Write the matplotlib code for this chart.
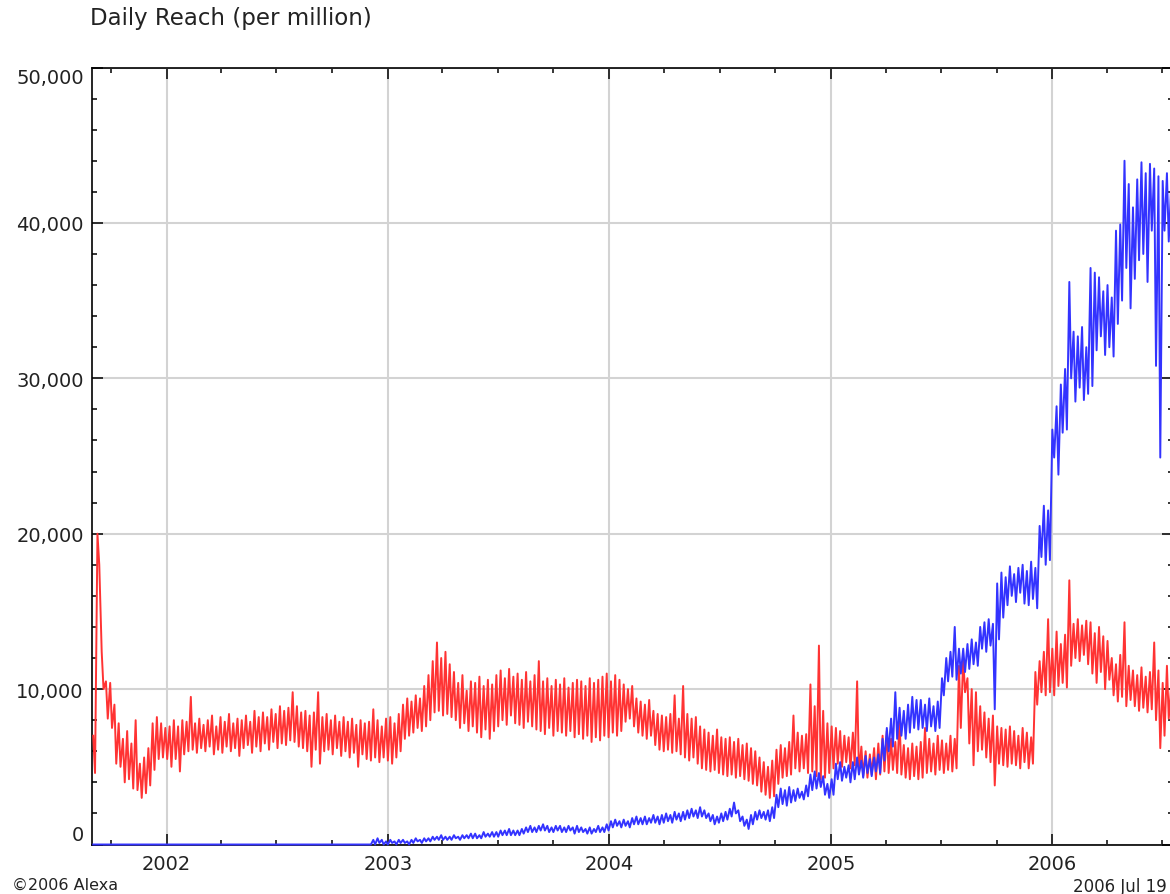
import numpy as np
import matplotlib
matplotlib.use("Agg")
import matplotlib.pyplot as plt
import matplotlib.dates as mdates
from matplotlib.ticker import MultipleLocator, FuncFormatter

# weekly readings in thousands per million: weekday peak and weekend dip
start = np.datetime64("2001-08-31")
end = np.datetime64("2006-07-19")

red_hi = [
    7.0, 20.0, 12.4, 10.5, 10.4,   9.0, 7.8, 6.8, 7.3, 6.5,
    8.0, 5.2, 5.6, 6.2, 7.8,       8.2, 7.8, 7.5, 7.6, 8.0,
    7.6, 8.0, 7.9, 9.5, 7.8,       8.1, 7.7, 8.0, 8.3, 7.6,
    8.2, 7.9, 8.4, 7.8, 8.1,       8.0, 8.3, 7.9, 8.6, 8.2,
    8.5, 8.2, 8.7, 8.4, 8.9,       8.6, 8.8, 9.8, 8.9, 8.5,
    8.6, 8.3, 8.5, 9.8, 8.2,       8.4, 8.0, 8.3, 7.9, 8.2,
    7.9, 8.1, 7.7, 8.0, 7.8,       7.9, 8.7, 8.0, 7.6, 8.1,
    8.2, 7.8, 8.4, 9.0, 9.4,       9.2, 9.6, 9.4, 10.2, 10.9,
    11.8, 13.0, 12.0, 12.4, 11.6,  11.1, 10.4, 10.9, 9.9, 10.5,
    10.4, 10.8, 10.2, 10.6, 10.3,  10.9, 11.2, 10.7, 11.3, 10.8,
    11.0, 10.6, 11.1, 10.5, 10.9,  11.8, 10.5, 10.7, 10.2, 10.6,
    10.3, 10.7, 10.1, 10.4, 10.6,  10.5, 10.2, 10.7, 10.4, 10.6,
    10.8, 11.0, 10.5, 10.9, 10.6,  10.3, 10.0, 10.2, 9.4, 9.2,
    9.0, 9.3, 8.6, 8.4, 8.3,       8.2, 8.4, 9.6, 8.1, 10.2,
    8.4, 8.1, 8.2, 7.6, 7.4,       7.2, 7.0, 7.4, 6.9, 6.8,
    6.9, 6.6, 6.8, 6.4, 6.5,       6.2, 6.0, 5.6, 5.3, 5.0,
    5.4, 6.1, 6.4, 6.2, 6.6,       8.3, 7.2, 7.0, 7.1, 10.3,
    8.9, 12.8, 8.6, 7.8, 7.6,      7.5, 7.3, 7.0, 6.9, 7.2,
    10.5, 6.3, 6.0, 5.8, 6.2,      6.5, 7.0, 7.3, 6.8, 6.6,
    8.1, 6.4, 6.2, 6.5, 6.3,       6.6, 7.5, 6.8, 6.5, 7.0,
    6.7, 6.5, 7.0, 6.8, 11.5,      12.0, 10.7, 10.0, 9.8, 8.9,
    8.5, 8.1, 8.3, 7.6, 7.5,       7.4, 7.6, 7.3, 7.0, 7.5,
    7.2, 6.9, 11.1, 11.8, 12.4,    14.5, 12.6, 13.7, 12.9, 13.5,
    17.0, 14.2, 14.5, 14.1, 14.4,  14.3, 13.6, 14.0, 13.4, 13.1,
    12.0, 11.6, 12.2, 14.3, 11.5,  11.2, 10.9, 11.4, 10.8, 11.1,
    13.0, 11.2, 10.4, 11.5, 10.2,
]
red_lo = [
    4.6, 18.0, 10.0, 8.1, 7.5,     5.2, 5.0, 4.0, 4.2, 3.6,
    3.5, 3.0, 3.3, 3.8, 4.8,       5.5, 5.6, 5.5, 5.0, 5.5,
    4.7, 5.8, 6.0, 6.1, 5.9,       6.2, 6.0, 6.3, 5.8, 6.1,
    5.9, 6.3, 6.0, 6.2, 5.7,       6.2, 6.4, 5.9, 6.3, 6.0,
    6.5, 6.1, 6.6, 6.2, 6.5,       6.4, 6.7, 6.6, 6.3, 6.2,
    6.0, 5.0, 6.1, 5.2, 6.0,       6.1, 5.8, 6.2, 5.7, 6.0,
    5.6, 5.9, 5.0, 5.8, 5.5,       5.4, 5.6, 5.3, 5.6, 5.4,
    5.2, 5.6, 6.0, 6.8, 7.0,       7.2, 7.5, 7.3, 7.6, 8.0,
    8.5, 8.6, 8.3, 8.4, 8.2,       8.0, 7.5, 7.8, 7.3, 7.6,
    7.2, 6.9, 7.4, 6.8, 7.3,       7.6, 8.0, 7.7, 8.3, 7.8,
    7.7, 7.5, 7.9, 7.6, 7.4,       7.3, 7.1, 7.5, 7.0, 7.3,
    7.2, 7.0, 7.3, 6.9, 7.1,       6.8, 7.0, 6.6, 6.9, 6.7,
    7.0, 6.9, 7.2, 7.0, 7.3,       7.9, 8.1, 7.6, 7.2, 7.0,
    6.8, 7.0, 6.4, 6.1, 6.0,       6.1, 5.9, 6.0, 5.8, 5.6,
    5.4, 5.6, 5.2, 4.9, 4.8,       4.7, 4.8, 4.6, 4.5, 4.4,
    4.5, 4.3, 4.4, 4.2, 4.1,       3.9, 3.8, 3.4, 3.2, 3.0,
    3.1, 3.9, 4.3, 4.4, 4.5,       4.9, 4.7, 4.9, 4.6, 4.7,
    4.4, 4.2, 4.3, 4.6, 4.9,       5.2, 5.0, 5.3, 4.9, 5.1,
    4.6, 4.4, 4.3, 4.5, 4.2,       4.5, 4.7, 4.6, 4.8, 4.6,
    4.5, 4.3, 4.2, 4.4, 4.2,       4.3, 4.6, 4.7, 4.5, 4.8,
    4.6, 4.8, 4.7, 4.9, 7.5,       9.8, 6.5, 5.1, 6.0, 6.1,
    5.6, 5.3, 3.8, 5.2, 5.1,       5.0, 5.2, 5.1, 4.9, 5.3,
    4.9, 5.2, 9.0, 9.8, 9.6,       9.8, 9.6, 10.2, 10.4, 10.1,
    11.5, 12.0, 11.8, 12.2, 11.6,  11.0, 10.4, 11.1, 10.0, 10.6,
    9.6, 9.2, 9.5, 8.9, 9.3,       8.9, 8.6, 8.8, 8.5, 8.7,
    8.0, 6.2, 7.0, 8.1, 7.2,
]

# the blue site shows no reach before December 2002 (first 66 weeks)
blue_hi = [0.0] * 66 + [
    0.3, 0.4, 0.3, 0.2,
    0.3, 0.2, 0.3, 0.3, 0.2,       0.3, 0.4, 0.3, 0.4, 0.4,
    0.5, 0.5, 0.6, 0.5, 0.5,       0.6, 0.5, 0.6, 0.6, 0.7,
    0.7, 0.6, 0.8, 0.7, 0.8,       0.8, 0.9, 0.9, 1.0, 0.9,
    0.9, 1.0, 1.1, 1.2, 1.1,       1.2, 1.3, 1.2, 1.1, 1.2,
    1.2, 1.1, 1.2, 1.1, 1.2,       1.1, 1.0, 1.1, 1.0, 1.2,
    1.1, 1.3, 1.5, 1.6, 1.5,       1.6, 1.5, 1.7, 1.8, 1.7,
    1.8, 1.7, 1.9, 1.8, 1.9,       2.0, 1.9, 2.1, 2.0, 2.1,
    2.2, 2.3, 2.2, 2.4, 2.2,       2.0, 1.9, 1.8, 2.0, 2.1,
    2.3, 2.7, 2.2, 1.8, 1.6,       1.9, 2.1, 2.2, 2.1, 2.2,
    2.4, 3.2, 3.6, 3.5, 3.7,       3.5, 3.6, 3.4, 3.8, 4.5,
    4.7, 4.6, 4.4, 3.9, 4.2,       5.2, 5.3, 5.0, 5.1, 5.3,
    5.6, 5.4, 5.7, 5.5, 5.6,       5.8, 6.8, 7.5, 8.1, 9.8,
    8.8, 8.6, 9.0, 9.5, 9.3,       9.3, 9.0, 9.4, 8.9, 9.2,
    10.7, 12.0, 12.4, 14.0, 12.6,  12.6, 12.9, 13.2, 13.0, 14.0,
    14.3, 14.5, 14.2, 16.8, 17.5,  17.2, 17.9, 17.4, 17.8, 18.0,
    17.6, 18.2, 17.8, 20.5, 21.8,  21.5, 26.7, 28.2, 29.6, 30.6,
    36.2, 33.0, 32.7, 33.3, 32.0,  37.1, 36.8, 36.5, 35.6, 36.0,
    35.2, 39.5, 39.9, 44.0, 42.5,  41.0, 42.8, 43.9, 43.2, 43.8,
    43.5, 43.0, 42.7, 43.2, 42.4,
]
blue_lo = [0.0] * 66 + [
    0.0, 0.1, 0.0, 0.0,
    0.1, 0.0, 0.1, 0.1, 0.0,       0.1, 0.2, 0.1, 0.2, 0.2,
    0.3, 0.3, 0.3, 0.3, 0.3,       0.4, 0.3, 0.4, 0.4, 0.4,
    0.4, 0.4, 0.5, 0.5, 0.5,       0.5, 0.6, 0.6, 0.6, 0.6,
    0.6, 0.7, 0.8, 0.8, 0.8,       0.9, 0.9, 0.8, 0.8, 0.9,
    0.8, 0.8, 0.9, 0.7, 0.8,       0.8, 0.7, 0.7, 0.8, 0.8,
    0.8, 0.9, 1.1, 1.2, 1.1,       1.2, 1.1, 1.3, 1.3, 1.3,
    1.3, 1.4, 1.4, 1.3, 1.4,       1.5, 1.4, 1.6, 1.5, 1.6,
    1.7, 1.8, 1.7, 1.8, 1.7,       1.5, 1.3, 1.4, 1.5, 1.6,
    1.8, 2.0, 1.5, 1.2, 1.0,       1.3, 1.6, 1.7, 1.6, 1.5,
    1.7, 2.4, 2.6, 2.5, 2.7,       2.8, 3.0, 2.9, 3.1, 3.5,
    3.6, 3.7, 3.2, 3.0, 3.2,       4.2, 4.1, 4.3, 4.0, 4.2,
    4.5, 4.3, 4.6, 4.4, 4.7,       4.6, 5.4, 6.0, 6.3, 6.8,
    7.0, 6.8, 7.2, 7.5, 7.4,       7.5, 7.3, 7.6, 7.3, 7.5,
    9.6, 10.5, 10.8, 10.6, 11.0,   11.1, 11.3, 11.6, 11.5, 12.6,
    12.4, 12.8, 8.7, 13.2, 14.6,   15.4, 16.0, 15.6, 16.2, 15.5,
    15.4, 15.8, 15.2, 18.5, 18.0,  18.3, 24.9, 23.8, 26.5, 26.7,
    30.0, 28.5, 29.4, 28.6, 29.0,  29.5, 31.8, 32.7, 31.5, 32.0,
    31.4, 33.5, 35.0, 37.1, 34.5,  36.4, 37.6, 38.0, 36.2, 39.5,
    30.8, 24.9, 39.5, 38.8, 40.2,
]


def zigzag(hi, lo):
    # weekday peak then weekend dip for every week
    n = len(hi)
    days = np.arange(n) * 7
    t = np.empty(2 * n, dtype="datetime64[D]")
    v = np.empty(2 * n)
    t[0::2] = start + days + 2
    t[1::2] = start + days + 5
    v[0::2] = np.array(hi) * 1000
    v[1::2] = np.array(lo) * 1000
    return t, v


fig = plt.figure(figsize=(11.7, 8.95), dpi=100)
ax = fig.add_axes([92 / 1170, 49.5 / 895, 1081 / 1170, 777 / 895])

tb, vb = zigzag(blue_hi, blue_lo)
tr, vr = zigzag(red_hi, red_lo)
ax.plot(tr, vr, color="#ff3333", lw=1.4, zorder=3)
ax.plot(tb, vb, color="#3333ff", lw=1.4, zorder=4, clip_on=False)

ax.set_xlim(start, end)
ax.set_ylim(0, 50000)

ax.xaxis.set_major_locator(mdates.YearLocator())
ax.xaxis.set_minor_locator(mdates.MonthLocator(bymonth=[1, 4, 7, 10]))
ax.xaxis.set_major_formatter(mdates.DateFormatter("%Y"))
ax.set_yticks([0, 10000, 20000, 30000, 40000, 50000])
ax.yaxis.set_minor_locator(MultipleLocator(2000))
ax.yaxis.set_major_formatter(FuncFormatter(lambda v, p: f"{int(v):,}"))

ax.grid(True, which="major", color="#d3d3d3", lw=1.5, zorder=0)
ax.set_axisbelow(True)
for s in ax.spines.values():
    s.set_linewidth(1.2)
    s.set_color("black")

ax.tick_params(which="both", direction="in", top=True, right=True, width=1.1,
               labelsize=14, labelcolor="#222222")
ax.tick_params(which="major", length=8)
ax.tick_params(which="minor", length=3.5)
ax.tick_params(axis="x", pad=7)
ax.tick_params(axis="y", pad=6)

yt = ax.yaxis.get_major_ticks()
yt[0].label1.set_verticalalignment("bottom")
yt[-1].label1.set_verticalalignment("top")

fig.text(90 / 1170, 1 - 18 / 895, "Daily Reach (per million)", fontsize=16.5,
         color="#222222", ha="left", va="center")
fig.text(12 / 1170, 1 - 885 / 895, "\u00a92006 Alexa", fontsize=11.5,
         color="#222222", ha="left", va="center")
fig.text(1167 / 1170, 1 - 887 / 895, "2006 Jul 19", fontsize=12,
         color="#222222", ha="right", va="center")

fig.savefig("out.png", dpi=100)
